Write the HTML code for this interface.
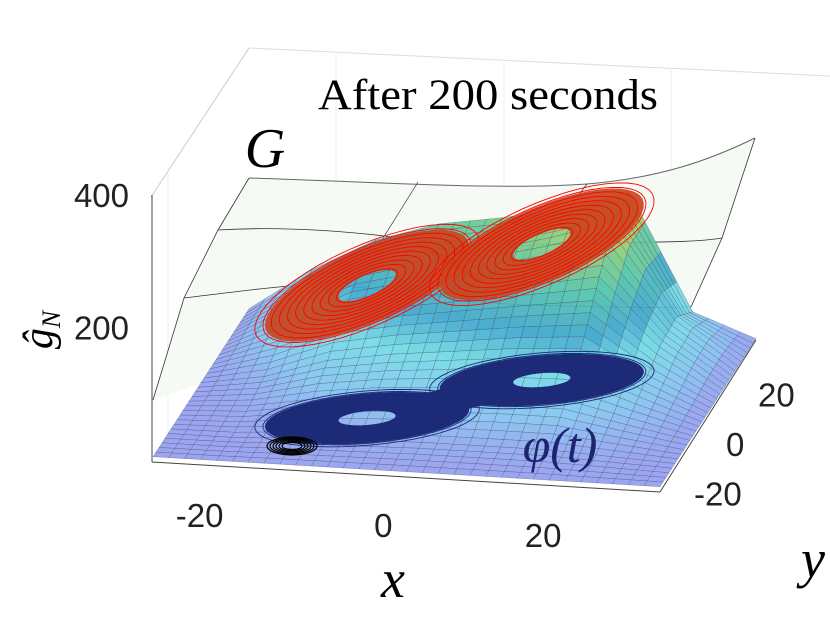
<!DOCTYPE html>
<html><head><meta charset="utf-8"><style>
html,body{margin:0;padding:0;background:#fff;}
svg{display:block;}
text{font-family:"Liberation Sans",sans-serif;}
.serif{font-family:"Liberation Serif",serif;}
</style></head><body>
<svg id="chart" width="830" height="623" viewBox="0 0 830 623" xmlns="http://www.w3.org/2000/svg">
<g id="walls">
  <line x1="151" y1="197" x2="249" y2="48" stroke="#ccc" stroke-width="1"/>
  <line x1="249" y1="48" x2="830" y2="76" stroke="#ddd" stroke-width="1"/>
  <line x1="336" y1="52" x2="336" y2="290" stroke="#eee"/>
  <line x1="504" y1="60" x2="504" y2="290" stroke="#eee"/>
  <line x1="671" y1="68" x2="671" y2="290" stroke="#eee"/>
  <line x1="168" y1="172" x2="168" y2="460" stroke="#eee"/>
  <line x1="152" y1="195" x2="152" y2="462" stroke="#444" stroke-width="1"/>
  <line x1="152" y1="462" x2="660" y2="492" stroke="#444" stroke-width="1"/>
  <line x1="660" y1="492" x2="756" y2="340" stroke="#444" stroke-width="1"/>
</g>
<g id="sheet">
  <path d="M249,178 C400,183 500,190 587,184 C660,178 710,160 755,138 L722,238 L691,307 L600,330 L300,350 L153,400 L184,298 L218,230 Z" fill="#f6faf4" stroke="none"/>
  <path d="M249,178 C400,183 500,190 587,184 C660,178 710,160 755,138" fill="none" stroke="#666" stroke-width="1"/>
  <path d="M249,178 L218,230 L184,298 L153,400" fill="none" stroke="#333" stroke-width="0.8"/>
  <path d="M755,138 L722,238 L691,307" fill="none" stroke="#333" stroke-width="0.8"/>
  <path d="M218,230 C300,225 380,235 416,240 C460,245 480,250 504,247 C600,240 680,245 722,238" fill="none" stroke="#333" stroke-width="0.8"/>
  <path d="M184,298 C250,290 300,283 331,285 C420,292 480,303 522,305 C600,307 650,308 691,307" fill="none" stroke="#333" stroke-width="0.8"/>
  <path d="M418,182 L380,243 L345,300" fill="none" stroke="#333" stroke-width="0.7"/>
  <path d="M587,184 L560,220 L527,250 L500,300" fill="none" stroke="#333" stroke-width="0.7"/>
</g>
<g id="surf"></g>
<g id="floorloops"></g>
<g id="redloops"></g>
<g id="ticks"></g>
<text x="488" y="109" class="serif" font-size="43" text-anchor="middle" textLength="340" lengthAdjust="spacingAndGlyphs">After 200 seconds</text>
<text x="265" y="167" class="serif" font-size="56" font-style="italic" text-anchor="middle">G</text>
<text x="560" y="462" class="serif" font-size="50" font-style="italic" fill="#1c2470" text-anchor="middle">φ(t)</text>
<text x="393" y="597" class="serif" font-size="54" font-style="italic" text-anchor="middle">x</text>
<text x="813" y="577" class="serif" font-size="54" font-style="italic" text-anchor="middle">y</text>
<g transform="translate(52,330) rotate(-90)">
  <text x="0" y="0" class="serif" font-size="42" font-style="italic" text-anchor="middle">ĝ<tspan font-size="26" dy="8">N</tspan></text>
</g>
</svg>
<script>
const xCols = [-30,-22.5,-15,-7.5,0,7.5,15,22.5,30];
const yRows = [30,20,10,0,-10,-20,-30];
const zGrid = [
 [5,70,120,150,165,185,215,40,5],
 [5,60,110,135,150,175,205,70,5],
 [5,40,85,105,120,135,150,65,5],
 [5,20,50,65,75,85,90,45,5],
 [5,10,25,35,40,45,45,25,5],
 [5,5,10,12,15,15,15,10,5],
 [5,5,5,5,5,5,5,5,5]
];
const lobeX = [-8.7, 8.4];
const lobeY = [-8.7, 10.2];
const liftZ = [200, 205];
const xTicks = [-20,0,20];
const yTicks = [-20,0,20];
const zTicks = [200,400];

const NS='http://www.w3.org/2000/svg';
function P(x,y,z){const a=x/30,b=y/30;return [454.5+253.5*a+48*b, 401+15*a-74*b-z*0.6625];}
function H(x,y){
  let fi=(x+30)/7.5, fj=(30-y)/10;
  fi=Math.max(0,Math.min(7.999,fi)); fj=Math.max(0,Math.min(5.999,fj));
  const i=Math.floor(fi),j=Math.floor(fj),u=fi-i,v=fj-j;
  return zGrid[j][i]*(1-u)*(1-v)+zGrid[j][i+1]*u*(1-v)+zGrid[j+1][i]*(1-u)*v+zGrid[j+1][i+1]*u*v;
}
const stops=[[0,[150,150,240]],[35,[130,196,240]],[70,[112,218,228]],[100,[60,165,205]],[140,[80,196,170]],[180,[140,205,120]],[215,[200,190,80]]];
function col(z){
  for(let k=0;k<stops.length-1;k++){if(z<=stops[k+1][0]){const t=(z-stops[k][0])/(stops[k+1][0]-stops[k][0]);const c=stops[k][1].map((v,m)=>Math.round(v+(stops[k+1][1][m]-v)*Math.max(0,t)));return 'rgb('+c+')';}}
  return 'rgb('+stops[stops.length-1][1]+')';
}
const surf=document.getElementById('surf');
const N=32;
for(let j=0;j<N;j++){
  const y0=30-60*j/N,y1=30-60*(j+1)/N;
  for(let i=0;i<N;i++){
    const x0=-30+60*i/N,x1=-30+60*(i+1)/N;
    const pts=[[x0,y0],[x1,y0],[x1,y1],[x0,y1]].map(p=>P(p[0],p[1],H(p[0],p[1])));
    const zc=H((x0+x1)/2,(y0+y1)/2);
    const poly=document.createElementNS(NS,'polygon');
    poly.setAttribute('points',pts.map(p=>p.join(',')).join(' '));
    poly.setAttribute('fill',col(zc));
    poly.setAttribute('fill-opacity','0.92');
    poly.setAttribute('stroke','#3a3a55');
    poly.setAttribute('stroke-width','0.4');
    poly.setAttribute('stroke-opacity','0.6');
    
    
    surf.appendChild(poly);
  }
}
const C=Math.SQRT1_2;
const RA=13, RB=9;
function loopPath(cx,cy,z,tilt,r){
  let d='';
  for(let t=0;t<=48;t++){const a=t/48*2*Math.PI;
    const u=r*RA*Math.cos(a), v=r*RB*Math.sin(a);
    const x=cx+C*(u-v), y=cy+C*(u+v);
    const p=P(x,y,z+tilt*u);
    d+=(t?'L':'M')+p[0].toFixed(1)+','+p[1].toFixed(1);}
  return d+'Z';
}
function drawLoops(g,zfun,tilt,fill,stroke,name){
  const band=document.createElementNS(NS,'path');
  const a=P(lobeX[0]+C*(9-4),lobeY[0]+C*(9+4),zfun(0)+tilt*9),b=P(lobeX[1]-C*(9+4),lobeY[1]-C*(9-4),zfun(1)-tilt*9),
        c=P(lobeX[1]-C*(9-4),lobeY[1]-C*(9+4),zfun(1)-tilt*9),d=P(lobeX[0]+C*(9+4),lobeY[0]+C*(9-4),zfun(0)+tilt*9);
  band.setAttribute('d','M'+a+'L'+b+'L'+c+'L'+d+'Z');
  band.setAttribute('fill',fill);
  
  
  g.appendChild(band);
  for(let k=0;k<lobeX.length;k++){
    const outer=document.createElementNS(NS,'path');
    outer.setAttribute('d',loopPath(lobeX[k],lobeY[k],zfun(k),tilt,1)+loopPath(lobeX[k],lobeY[k],zfun(k),tilt,0.28));
    outer.setAttribute('fill',fill);
    outer.setAttribute('fill-rule','evenodd');
    
    
    g.appendChild(outer);
    for(let r=0.3;r<=1.1;r+=0.08){
      const l=document.createElementNS(NS,'path');
      l.setAttribute('d',loopPath(lobeX[k],lobeY[k],zfun(k),tilt,r));
      l.setAttribute('fill','none');
      l.setAttribute('stroke',stroke);
      l.setAttribute('stroke-width','0.9');
      
      
      g.appendChild(l);
    }
  }
}
drawLoops(document.getElementById('floorloops'),k=>0,0,'#1c2a78','#1c2a78','phi');
drawLoops(document.getElementById('redloops'),k=>liftZ[k],4,'rgba(200,70,30,0.92)','#ff0000','lifted');
const fl=document.getElementById('floorloops');
for(let r=0.4;r<=1;r+=0.12){
  const e=document.createElementNS(NS,'ellipse');
  e.setAttribute('cx','292');e.setAttribute('cy','446');
  e.setAttribute('rx',(25*r).toFixed(1));e.setAttribute('ry',(9*r).toFixed(1));
  e.setAttribute('fill','none');e.setAttribute('stroke','#000');e.setAttribute('stroke-width','1.2');
  
  
  fl.appendChild(e);
}
const tk=document.getElementById('ticks');
function txt(x,y,s,anchor){const t=document.createElementNS(NS,'text');t.setAttribute('x',x);t.setAttribute('y',y);t.setAttribute('font-size','33');t.setAttribute('fill','#222');t.setAttribute('text-anchor',anchor);t.textContent=s;

tk.appendChild(t);}
xTicks.forEach(v=>{const p=P(v,-30,0);txt(p[0]-14,p[1]+62,v,'end');});
yTicks.forEach(v=>{const p=P(30,v,0);txt(p[0]+18,p[1]+40,v,'start');});
zTicks.forEach(v=>{const p=P(-30,-30,v);txt(p[0]-24,p[1]+12,v,'end');});
</script>
</body></html>
